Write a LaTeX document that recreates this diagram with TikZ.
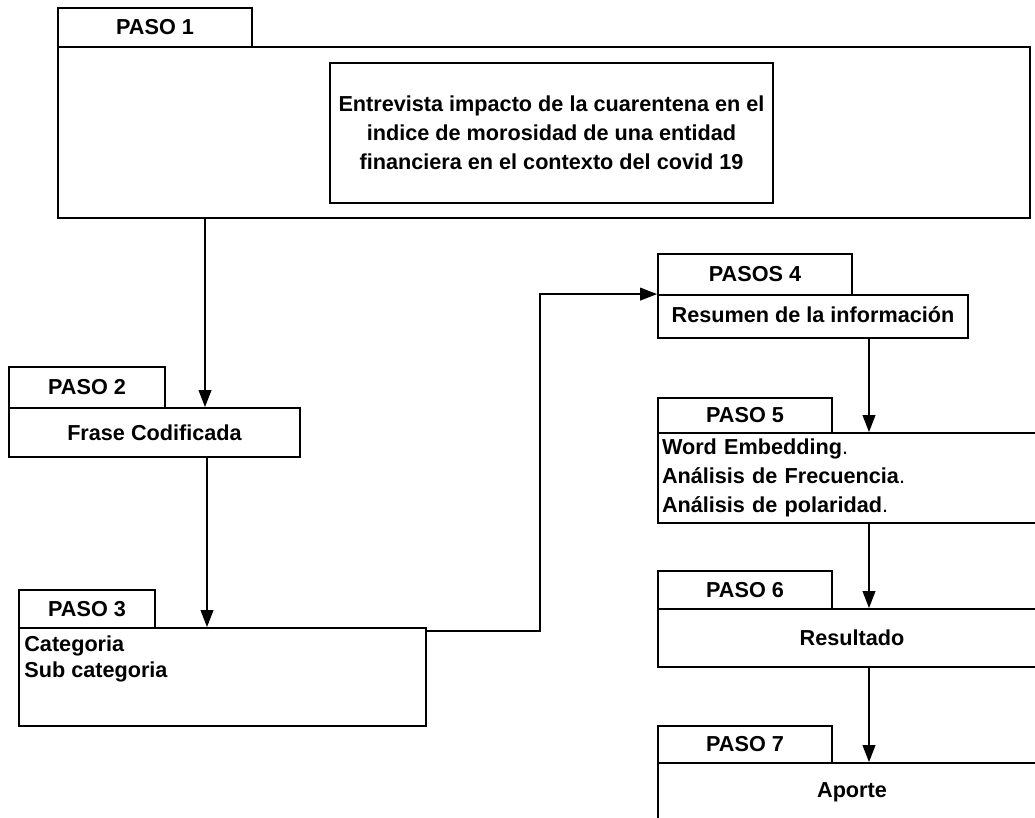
\documentclass[tikz,border=0pt]{standalone}
\usepackage{fontspec}
\setmainfont{Liberation Sans}
\usetikzlibrary{arrows.meta}

\begin{document}
\begin{tikzpicture}[x=0.25mm, y=-0.25mm, >={Triangle[length=12pt, width=9pt]},
        box/.style={draw, line width=1.3pt, inner sep=1mm, font=\fontsize{15.4}{20.5}\selectfont\bfseries},
        conn/.style={->, line width=1.1pt}]
        \useasboundingbox (0,0) rectangle (1035,818);
        \clip (0,0) rectangle (1035,818);

        \node [box, minimum width=48.5mm, minimum height=9.75mm] (t1) at (155,27.5) {PASO 1};
        \node [box, minimum width=243mm, minimum height=42.75mm] (p1) at (544,132.5) {};
        \node [box, minimum width=110.75mm, minimum height=35mm, align=center] (i1) at (551.5,133) {Entrevista impacto de la cuarentena en el\\indice de morosidad de una entidad\\financiera en el contexto del covid 19};

        \node [box, minimum width=39mm, minimum height=10.25mm] (t2) at (87,387.5) {PASO 2};
        \node [box, minimum width=72.75mm, minimum height=12.25mm] (p2) at (154.5,432.5) {Frase Codificada};

        \node [box, minimum width=34mm, minimum height=9.5mm] (t3) at (87,609) {PASO 3};
        \node [box, minimum width=101.75mm, minimum height=24.5mm] (p3) at (222.5,677) {};
        \node [anchor=north west, align=left, inner xsep=1.5mm, inner ysep=2mm, font=\fontsize{15.4}{18.5}\selectfont\bfseries] (p3txt) at (p3.north west) {Categoria\\Sub categoria};

        \node [box, minimum width=48.5mm, minimum height=10.25mm] (t4) at (755,274.5) {PASOS 4};
        \node [box, minimum width=77.5mm, minimum height=10.75mm] (p4) at (813,316.5) {\raisebox{1mm}{Resumen de la información}};

        \node [box, minimum width=43.5mm, minimum height=8.75mm] (t5) at (745,415.5) {PASO 5};
        \node [box, minimum width=97mm, minimum height=22.5mm, text width=95mm, align=left] (p5) at (852,478) {Word Embedding\textmd{.}\\Análisis de Frecuencia\textmd{.}\\Análisis de polaridad\textmd{.}};

        \node [box, minimum width=43.5mm, minimum height=9.5mm] (t6) at (745,590) {PASO 6};
        \node [box, minimum width=97mm, minimum height=14.5mm] (p6) at (852,638) {Resultado};

        \node [box, minimum width=43.5mm, minimum height=9.25mm] (t7) at (745,744.5) {PASO 7};
        \node [box, minimum width=97mm, minimum height=14.5mm] (p7) at (852,792) {Aporte};

        \coordinate (c1) at (205,0);
        \coordinate (c2) at (207,0);
        \coordinate (c3) at (540,0);
        \coordinate (c4) at (869,0);

        \draw [conn] (p1.south -| c1) -- (p2.north -| c1);
        \draw [conn] (p2.south -| c2) -- (p3.north -| c2);
        \draw [conn] ([yshift=-1mm]p3.north east) -| (c3 |- p4.north west) -- (p4.north west);
        \draw [conn] (p4.south -| c4) -- (p5.north -| c4);
        \draw [conn] (p5.south -| c4) -- (p6.north -| c4);
        \draw [conn] (p6.south -| c4) -- (p7.north -| c4);
    \end{tikzpicture}
\end{document}
